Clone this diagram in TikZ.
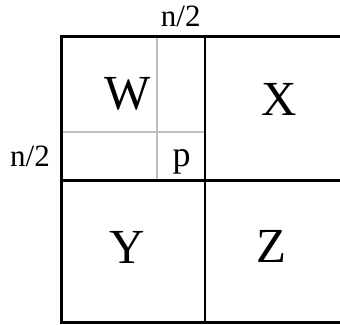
\documentclass[tikz,border=0pt]{standalone}
\usepackage{fontspec}
\setmainfont{Liberation Serif}

\begin{document}
\begin{tikzpicture}[x=1pt,y=1pt, every node/.style={inner sep=0pt}]
\useasboundingbox (0,0) rectangle (340,324);
\definecolor{gl}{HTML}{BFBFBF}\definecolor{bl}{HTML}{000000}
\tikzset{sub/.style={draw=gl, line width=2.3pt}, blk/.style={draw=bl, line width=2.7pt}}
% corners of the partition
\coordinate (tl) at (61.3,287.7);
\coordinate (bl) at (61.3,1.2);
\coordinate (tm) at (205,287.7);
\coordinate (bm) at (205,1.2);
\coordinate (ml) at (61.3,143.5);
\coordinate (mm) at (205,143.5);
\coordinate (tr) at (341,287.7);
\coordinate (mr) at (341,143.5);
\coordinate (br) at (341,1.2);
\coordinate (gt) at (157,287.7);
\coordinate (gb) at (157,143.5);
\coordinate (gl) at (61.3,191.7);
\coordinate (gr) at (205,191.7);
% inner split of W
\draw[sub] (gt) -- (gb);
\draw[sub] (gl) -- (gr);
% blocks
\draw[blk] (tr) -- (tl) -- (bl) -- (br);
\draw[blk] (tm) -- (bm);
\draw[blk] (ml) -- (mr);
% labels
\node[anchor=base, font=\fontsize{49}{56}\selectfont] (w) at (127.5,214) {W};
\node[anchor=base, font=\fontsize{49}{56}\selectfont] (x) at (279,208) {X};
\node[anchor=base, font=\fontsize{49}{56}\selectfont] (y) at (126.7,60.7) {Y};
\node[anchor=base, font=\fontsize{49}{56}\selectfont] (z) at (271.7,61) {Z};
\node[anchor=base, font=\fontsize{36}{42}\selectfont] (p) at (181.7,157.3) {p};
\node[anchor=base, font=\fontsize{31}{36}\selectfont] (ntop) at (180.8,297.3) {n/2};
\node[anchor=base, font=\fontsize{31}{36}\selectfont] (nleft) at (30,157.3) {n/2};
\end{tikzpicture}
\end{document}
